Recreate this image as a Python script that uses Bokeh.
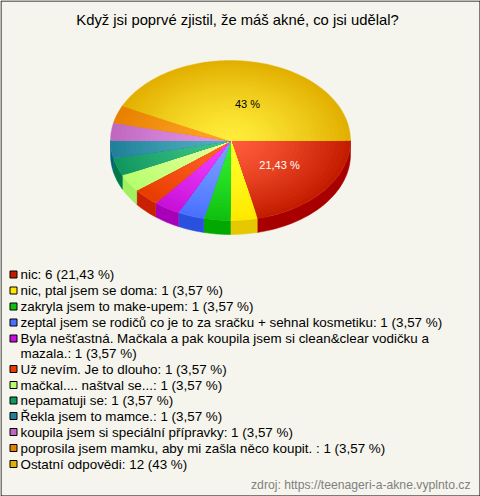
import math
from bokeh.plotting import figure
from bokeh.models import Range1d
from bokeh.core.properties import value
from bokeh.embed import file_html
from bokeh.resources import INLINE

title = "Když jsi poprvé zjistil, že máš akné, co jsi udělal?"
footer = "zdroj: https://teenageri-a-akne.vyplnto.cz"
answers = ["nic", "nic, ptal jsem se doma", "zakryla jsem to make-upem",
           "zeptal jsem se rodičů co je to za sračku + sehnal kosmetiku",
           "Byla nešťastná. Mačkala a pak koupila jsem si clean&clear vodičku a\nmazala.",
           "Už nevím. Je to dlouho", "mačkal.... naštval se...", "nepamatuji se",
           "Řekla jsem to mamce.", "koupila jsem si speciální přípravky",
           "poprosila jsem mamku, aby mi zašla něco koupit. ", "Ostatní odpovědi"]
counts = [6, 1, 1, 1, 1, 1, 1, 1, 1, 1, 1, 12]
percent = ["21,43", "3,57", "3,57", "3,57", "3,57", "3,57", "3,57", "3,57", "3,57", "3,57", "3,57", "43"]
center_col = ["#ff5c3a", "#ffff2a", "#30f030", "#7aa2ff", "#f040ff", "#ff6428", "#e4ff98", "#40c488", "#50b0c0", "#e294e8", "#ffa428", "#ffec3a"]
rim_col = ["#c41c00", "#ffe800", "#10c010", "#4a70ff", "#c810d8", "#e83c00", "#b8ff70", "#109860", "#208098", "#c068c0", "#e88000", "#e2b000"]
side_col = ["#a80000", "#e6c800", "#00a800", "#2a50e0", "#a800b8", "#c82000", "#a0f060", "#007848", "#006080", "#a050a0", "#c86000", "#c09000"]
pie_labels = ["21,43 %", "43 %"]
pie_label_col = ["#ffffff", "#000000"]

CX, CY, RX, RY, DEPTH = 230, 140, 120, 80, 14
FONT = "Liberation Sans"

p = figure(width=480, height=496, x_range=Range1d(0, 480), y_range=Range1d(496, 0),
           output_backend="svg", toolbar_location=None, min_border=0,
           background_fill_color="#f5f5ed", border_fill_color="#f5f5ed", outline_line_color=None)
p.axis.visible = False
p.grid.visible = False

def mix(c1, c2, t):
    a = [int(c1[i:i + 2], 16) for i in (1, 3, 5)]
    b = [int(c2[i:i + 2], 16) for i in (1, 3, 5)]
    return "#%02x%02x%02x" % tuple(round(u + (v - u) * t) for u, v in zip(a, b))

total = sum(counts)
spans = []
start = 0.0
for c in counts:
    end = start + 2 * math.pi * c / total
    spans.append((start, end))
    start = end

# frame of the picture
p.quad(left=[0.5], right=[479.5], top=[0.5], bottom=[495.5], fill_color=None, line_color="#000000", line_width=1)

# side wall
for (a0, a1), col in zip(spans, side_col):
    lo, hi = a0, min(a1, math.pi)
    if lo >= math.pi:
        continue
    n = max(2, int((hi - lo) * 30))
    ts = [lo + (hi - lo) * i / n for i in range(n + 1)]
    xs = [CX + RX * math.cos(t) for t in ts]
    ys = [CY + RY * math.sin(t) for t in ts]
    p.patch(xs + xs[::-1], ys + [y + DEPTH for y in ys[::-1]], fill_color=col, line_color=col, line_width=0.5)

# top face: radial shading by nested sectors
RINGS = 24
for (a0, a1), c0, c1 in zip(spans, center_col, rim_col):
    n = max(2, int((a1 - a0) * 40))
    ts = [a0 + (a1 - a0) * i / n for i in range(n + 1)]
    for k in range(RINGS, 0, -1):
        f = k / RINGS
        xs = [CX] + [CX + f * RX * math.cos(t) for t in ts]
        ys = [CY] + [CY + f * RY * math.sin(t) for t in ts]
        col = mix(c0, c1, ((k - 1) / (RINGS - 1)) ** 1.3)
        p.patch(xs, ys, fill_color=col, line_color=col, line_width=0.4)

def txt(x, y, s, size, color="#000000", align="left"):
    p.text([x], [y], text=[s], text_font=value(FONT), text_font_size=size, text_color=color,
           text_align=align, text_baseline="middle")

txt(237, 19, title, "14.8px", "#000000", "center")
txt(279, 164, pie_labels[0], "11px", pie_label_col[0], "center")
txt(247, 103, pie_labels[1], "11px", pie_label_col[1], "center")

y_rows = [274, 290, 306, 322, 338, 368.5, 384.5, 400, 415.5, 431.5, 447.5, 463.5]
for y, a, c, pc, col in zip(y_rows, answers, counts, percent, rim_col):
    p.quad(left=[9.5], right=[16.5], top=[y - 3.5], bottom=[y + 3.5], fill_color=col, line_color="#000000", line_width=1)
    lines = (a + ": %d (%s %%)" % (c, pc)).split("\n")
    for i, line in enumerate(lines):
        txt(20, y + i * 14.5, line, "13.4px")
txt(470, 484, footer, "12.2px", "#808080", "right")

open("out.html", "w").write(file_html(p, INLINE))
